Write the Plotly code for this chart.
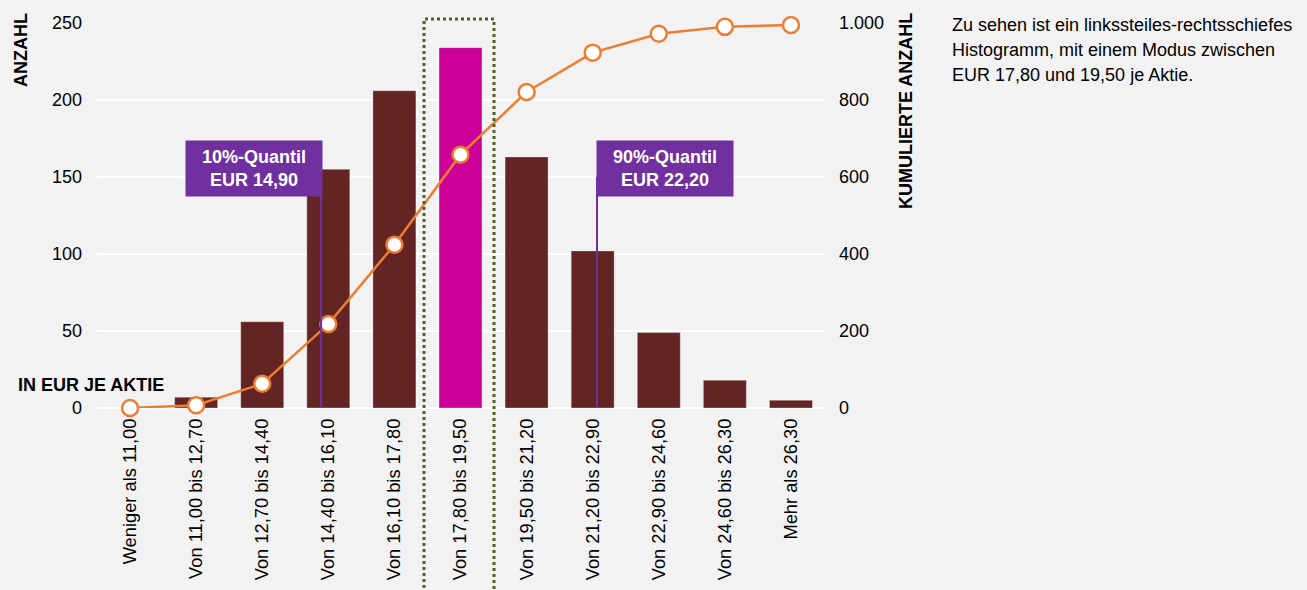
import plotly.graph_objects as go

categories = ["Weniger als 11,00", "Von 11,00 bis 12,70", "Von 12,70 bis 14,40",
              "Von 14,40 bis 16,10", "Von 16,10 bis 17,80", "Von 17,80 bis 19,50",
              "Von 19,50 bis 21,20", "Von 21,20 bis 22,90", "Von 22,90 bis 24,60",
              "Von 24,60 bis 26,30", "Mehr als 26,30"]
counts = [0, 7, 56, 155, 206, 234, 163, 102, 49, 18, 5]
cumulative = [0, 7, 63, 218, 424, 658, 821, 923, 972, 990, 995]
mode_category = "Von 17,80 bis 19,50"
quantile_labels = ["10%-Quantil<br>EUR 14,90", "90%-Quantil<br>EUR 22,20"]
quantile_pos = [2.89, 7.065]  # position on category axis (index units)
note_lines = ["Zu sehen ist ein linkssteiles-rechtsschiefes",
              "Histogramm, mit einem Modus zwischen",
              "EUR 17,80 und 19,50 je Aktie."]

FONT = "Arial, Liberation Sans, sans-serif"
MAROON = "#632523"
MAGENTA = "#CC0099"
ORANGE = "#ED7D31"
PURPLE = "#7030A0"
OLIVE = "#4F6228"
BG = "#F2F2F2"

W, H = 1307, 590
L, R, T, B = 97, 483, 23, 182
plot_w = W - L - R
plot_h = H - T - B

def px_x(p):
    return (p - L) / plot_w

def px_y(p):
    return (H - B - p) / plot_h

bar_colors = [MAGENTA if c == mode_category else MAROON for c in categories]

fig = go.Figure()
fig.add_trace(go.Bar(
    x=categories, y=counts, marker_color=bar_colors,
    marker_line=dict(color="rgba(255,255,255,0.3)", width=1),
    yaxis="y", showlegend=False, hoverinfo="skip",
))
fig.add_trace(go.Scatter(
    x=categories, y=cumulative, yaxis="y2", mode="lines+markers",
    line=dict(color=ORANGE, width=2.5),
    marker=dict(symbol="circle", size=16, color="white", line=dict(color=ORANGE, width=2.5)),
    cliponaxis=False, showlegend=False, hoverinfo="skip",
))

shapes = []
mi = categories.index(mode_category)
shapes.append(dict(type="rect", xref="x", yref="paper",
                   x0=mi - 0.552, x1=mi + 0.507, y0=-0.6, y1=px_y(19),
                   line=dict(color=OLIVE, width=3, dash="dot"), layer="above"))
for qp in quantile_pos:
    shapes.append(dict(type="line", xref="x", yref="y", x0=qp, x1=qp,
                       y0=-2.6, y1=150, line=dict(color=PURPLE, width=2), layer="above"))

annotations = []
for i, (lab, qp) in enumerate(zip(quantile_labels, quantile_pos)):
    annotations.append(dict(
        xref="x", yref="y", x=qp + (0.03 if i == 0 else -0.015), y=155.5,
        xanchor="right" if i == 0 else "left", yanchor="middle",
        text="<b>" + lab + "</b>", showarrow=False,
        font=dict(family=FONT, size=18, color="white"),
        bgcolor=PURPLE, width=134, height=53, borderpad=1, align="center"))

annotations.append(dict(xref="paper", yref="paper", x=px_x(21), y=px_y(11),
                        xanchor="center", yanchor="top", textangle=-90,
                        text="<b>ANZAHL</b>", showarrow=False,
                        font=dict(family=FONT, size=18, color="black")))
annotations.append(dict(xref="paper", yref="paper", x=px_x(906), y=px_y(11),
                        xanchor="center", yanchor="top", textangle=-90,
                        text="<b>KUMULIERTE ANZAHL</b>", showarrow=False,
                        font=dict(family=FONT, size=18, color="black")))
annotations.append(dict(xref="paper", yref="paper", x=px_x(16), y=px_y(385),
                        xanchor="left", yanchor="middle",
                        text="<b>IN EUR JE AKTIE</b>", showarrow=False,
                        font=dict(family=FONT, size=18, color="black")))
for k, line in enumerate(note_lines):
    annotations.append(dict(xref="paper", yref="paper", x=px_x(950), y=px_y(25 + 25 * k),
                            xanchor="left", yanchor="middle", text=line, showarrow=False,
                            font=dict(family=FONT, size=18, color="black")))

fig.update_layout(
    template="none",
    width=W, height=H,
    margin=dict(l=L, r=R, t=T, b=B, pad=0),
    paper_bgcolor=BG, plot_bgcolor=BG,
    font=dict(family=FONT, size=18, color="black"),
    separators=",.",
    bargap=0.35,
    hovermode=False,
    xaxis=dict(type="category", range=[-0.5, 10.5], tickangle=-90, showgrid=False,
               zeroline=False, showline=False, ticks="", ticklabelstandoff=6,
               automargin=False, tickfont=dict(size=18.3)),
    yaxis=dict(range=[0, 250], tickvals=[0, 50, 100, 150, 200, 250],
               showgrid=True, gridcolor="white", gridwidth=2,
               zeroline=True, zerolinecolor="white", zerolinewidth=2,
               showline=False, ticks="", ticklabelstandoff=14, automargin=False,
               tickfont=dict(size=18)),
    yaxis2=dict(range=[0, 1000], tickvals=[0, 200, 400, 600, 800, 1000],
                overlaying="y", side="right", showgrid=False, zeroline=False,
                showline=False, ticks="", ticklabelstandoff=14, tickformat=",d",
                automargin=False, tickfont=dict(size=18)),
    shapes=shapes, annotations=annotations,
)

fig.write_html("out.html", config={"displayModeBar": False},
               post_script="document.body.style.margin='0';document.body.style.background='#F2F2F2';")
